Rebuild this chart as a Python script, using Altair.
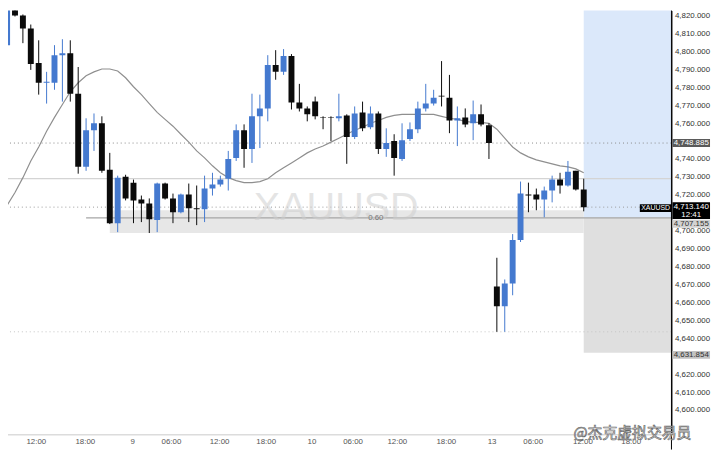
import altair as alt
import pandas as pd

# ---------------- data ----------------
opens = [4803.5, 4826.6, 4820.0, 4812.8, 4793.5, 4782.5, 4782.5, 4797.9, 4799.0, 4776.4,
         4735.6, 4756.0, 4759.9, 4734.0, 4704.2, 4730.1, 4726.8, 4717.4, 4715.2, 4705.9,
         4726.3, 4718.0, 4710.3, 4720.2, 4712.5, 4711.9, 4723.5, 4725.7, 4729.0, 4740.6,
         4756.0, 4745.6, 4763.8, 4768.2, 4792.4, 4788.6, 4797.4, 4771.5, 4768.2, 4772.0,
         4763.2, 4763.2, 4762.7, 4764.3, 4752.2, 4765.9, 4757.7, 4765.4, 4745.6, 4750.0,
         4740.0, 4751.1, 4756.6, 4768.2, 4770.9, 4775.3, 4774.2, 4761.5, 4763.2, 4759.9,
         4764.9, 4758.8, 4668.9, 4657.9, 4670.6, 4694.8, 4720.2, 4720.2, 4717.4, 4722.4,
         4728.5, 4725.2, 4733.4, 4723.0]
highs = [4829.9, 4828.8, 4820.6, 4815.0, 4806.2, 4788.6, 4803.5, 4806.8, 4806.2, 4791.3,
         4762.7, 4765.4, 4763.8, 4743.4, 4730.7, 4731.2, 4728.5, 4719.6, 4718.0, 4726.8,
         4726.8, 4720.7, 4720.7, 4726.3, 4725.2, 4730.7, 4732.3, 4730.7, 4744.5, 4759.3,
         4759.3, 4776.4, 4775.9, 4797.9, 4800.7, 4801.3, 4798.5, 4781.9, 4769.3, 4774.8,
         4763.8, 4763.8, 4776.4, 4764.9, 4769.3, 4772.0, 4769.3, 4766.5, 4757.1, 4753.8,
         4759.9, 4760.4, 4772.0, 4781.9, 4778.6, 4794.6, 4786.9, 4769.3, 4768.2, 4772.6,
         4770.4, 4759.9, 4684.9, 4672.8, 4698.1, 4727.4, 4726.8, 4723.5, 4724.6, 4730.7,
         4732.3, 4738.9, 4733.4, 4729.0]
lows = [4800.7, 4819.5, 4804.6, 4789.7, 4775.9, 4770.9, 4778.6, 4772.0, 4772.0, 4731.8,
        4733.4, 4744.5, 4732.3, 4703.7, 4699.2, 4716.9, 4704.2, 4704.8, 4698.7, 4699.2,
        4717.4, 4704.2, 4709.7, 4704.8, 4703.1, 4704.8, 4719.6, 4724.6, 4722.4, 4738.9,
        4735.1, 4737.8, 4746.1, 4761.0, 4784.2, 4786.9, 4767.6, 4766.5, 4761.0, 4762.1,
        4756.6, 4750.0, 4761.0, 4737.3, 4751.1, 4755.5, 4756.6, 4742.8, 4741.2, 4730.7,
        4738.9, 4750.0, 4754.4, 4766.5, 4769.8, 4769.3, 4754.4, 4747.2, 4757.7, 4750.5,
        4758.2, 4740.0, 4643.6, 4643.6, 4664.0, 4693.7, 4710.3, 4711.4, 4707.5, 4715.8,
        4720.7, 4724.6, 4722.4, 4710.8]
closes = [4826.1, 4820.0, 4812.8, 4793.0, 4782.5, 4783.1, 4797.9, 4799.0, 4776.4, 4735.6,
          4756.0, 4759.9, 4733.4, 4704.2, 4729.6, 4718.0, 4716.9, 4715.2, 4706.4, 4726.3,
          4718.0, 4710.3, 4720.2, 4712.5, 4711.9, 4723.5, 4725.7, 4728.5, 4740.0, 4756.0,
          4745.6, 4763.8, 4768.2, 4792.4, 4788.6, 4797.4, 4771.5, 4768.2, 4764.9, 4763.8,
          4762.9, 4762.9, 4763.8, 4752.2, 4765.4, 4757.1, 4765.4, 4745.6, 4748.9, 4740.6,
          4750.5, 4756.6, 4768.2, 4770.9, 4774.2, 4774.8, 4761.5, 4762.7, 4759.3, 4764.9,
          4759.3, 4748.9, 4657.9, 4670.6, 4694.8, 4720.7, 4719.6, 4717.4, 4722.4, 4728.5,
          4725.2, 4732.9, 4723.0, 4713.1]
ma_line = [4714.1, 4721.3, 4729.6, 4738.9, 4746.7, 4755.5, 4763.2, 4770.4, 4777.5, 4782.5,
           4786.4, 4788.6, 4790.2, 4790.2, 4789.1, 4785.3, 4780.3, 4775.9, 4770.9, 4766.0,
           4762.1, 4758.3, 4753.8, 4749.4, 4744.5, 4740.6, 4736.2, 4732.3, 4729.6, 4727.9,
           4726.8, 4726.8, 4727.4, 4729.0, 4732.3, 4735.1, 4737.8, 4740.6, 4743.4, 4745.6,
           4747.2, 4749.4, 4751.6, 4753.8, 4756.0, 4757.7, 4759.9, 4761.5, 4763.2, 4764.3,
           4764.9, 4764.9, 4764.9, 4764.9, 4764.9, 4763.8, 4762.7, 4762.1, 4761.0, 4760.4,
           4760.4, 4759.9, 4756.6, 4751.6, 4746.7, 4743.4, 4741.2, 4739.5, 4738.4, 4737.3,
           4736.2, 4735.6, 4734.5, 4732.3]

time_labels = ["12:00", "18:00", "9", "06:00", "12:00", "18:00", "10", "06:00",
               "12:00", "18:00", "13", "06:00", "12:00", "18:00"]
time_label_pos = [3.7, 9.9, 15.9, 20.8, 26.9, 32.8, 38.6, 43.8, 49.4, 55.6, 61.4, 66.6, 72.9, 79.0]

price_ticks = [4600, 4610, 4620, 4640, 4650, 4660, 4670, 4680, 4690, 4700, 4720, 4730,
               4740, 4760, 4770, 4780, 4790, 4800, 4810, 4820]

symbol = "XAUUSD"
last_price = 4713.140
last_time = "12:41"
level_high = 4748.885
entry_price = 4707.155
stop_price = 4631.854
solid_level = 4729.0
dotted_low = 4643.6
band_top = 4711.4
band_bottom = 4698.7
band_start = 13
line_start = 10
zone_start = 73
fib_label = "0.60"
credit = "@杰克虚拟交易员"

# ---------------- chart ----------------
W, H = 671, 429
BLUE = "#4479cf"
BLACK = "#0b0b0b"
FONT = "Liberation Sans"

xs = alt.Scale(domain=[0.74, 83.48], nice=False, zero=False)
ys = alt.Scale(domain=[4586.2, 4822.8], nice=False, zero=False)

yaxis = alt.Axis(orient="right", values=price_ticks, format=",.3f", labelFontSize=8,
                 labelColor="#333333", labelFont=FONT, domainColor="#000000", domainWidth=1,
                 ticks=False, grid=False, labelPadding=3, title=None)


def Y(field):
    return alt.Y(field, scale=ys, axis=yaxis)


def X(field):
    return alt.X(field, scale=xs, axis=None)


df = pd.DataFrame({"i": list(range(len(opens))), "open": opens, "high": highs,
                   "low": lows, "close": closes, "ma": ma_line})
df["dir"] = ["up" if c >= o else "down" for o, c in zip(opens, closes)]
col = alt.Color("dir:N", scale=alt.Scale(domain=["up", "down"], range=[BLUE, BLACK]), legend=None)


def zone(x1, x2, p1, p2, color):
    d = pd.DataFrame({"x1": [x1], "x2": [x2], "p1": [p1], "p2": [p2]})
    return alt.Chart(d).mark_rect(color=color, clip=True).encode(
        x=X("x1:Q"), x2="x2:Q", y=Y("p1:Q"), y2="p2:Q")


def hline(p, color, dash=None, width=1.0):
    d = pd.DataFrame({"p": [p]})
    kw = dict(color=color, strokeWidth=width)
    if dash:
        kw["strokeDash"] = dash
    return alt.Chart(d).mark_rule(**kw).encode(y=Y("p:Q"))


blue_zone = zone(zone_start, zone_start + 20, entry_price, 4840, "#dbe8fa")
grey_zone = zone(zone_start, zone_start + 20, stop_price, entry_price, "#dfdfdf")
band = zone(band_start, zone_start, band_bottom, band_top, "#e7e7e7")

entry_line = alt.Chart(pd.DataFrame({"x1": [line_start], "x2": [zone_start + 20], "p": [entry_price]})).mark_rule(
    color="#a6a6a6", strokeWidth=1.5, clip=True).encode(
    x=X("x1:Q"), x2="x2:Q", y=Y("p:Q"))

lines = [
    hline(solid_level, "#d4d4d4", width=1.2),
    hline(level_high, "#8a8a8a", dash=[1, 3]),
    hline(last_price, "#9a9a9a", dash=[1, 3]),
    hline(dotted_low, "#c4c4c4", dash=[1, 3]),
]

watermark = alt.Chart(pd.DataFrame({"t": [symbol]})).mark_text(
    fontSize=40, color="#cfcfcf", opacity=0.55, font=FONT, align="center", baseline="middle").encode(
    x=alt.value(332), y=alt.value(200), text="t:N")

fib = alt.Chart(pd.DataFrame({"t": [fib_label], "p": [entry_price]})).mark_text(
    fontSize=8, color="#777777", font=FONT, align="center", baseline="middle").encode(
    x=alt.value(372), y=Y("p:Q"), text="t:N")

base = alt.Chart(df)
ma = base.mark_line(color="#8f8f8f", strokeWidth=1.2, clip=True).encode(
    x=X("i:Q"), y=Y("ma:Q"))
wicks = base.mark_rule(strokeWidth=1, clip=True).encode(
    x=X("i:Q"), y=Y("low:Q"), y2="high:Q", color=col)
bodies = base.mark_bar(size=6, clip=True).encode(
    x=X("i:Q"), y=Y("open:Q"), y2="close:Q", color=col)

tl = pd.DataFrame({"pos": time_label_pos, "label": time_labels})
time_text = alt.Chart(tl).mark_text(fontSize=8, color="#555555", font=FONT, baseline="middle").encode(
    x=X("pos:Q"), y=alt.value(436), text="label:N")

bottom_line = alt.Chart(pd.DataFrame({"a": [0]})).mark_rule(color="#dcdcdc", strokeWidth=1.5).encode(
    x=alt.value(0), x2=alt.value(W), y=alt.value(429))
axis_ext = alt.Chart(pd.DataFrame({"a": [0]})).mark_rule(color="#000000", strokeWidth=1).encode(
    x=alt.value(W), y=alt.value(0), y2=alt.value(444))


def tag(p, lines_txt, bg, fg, x0, x1, top, bottom, dys, size=8):
    d = pd.DataFrame({"p": [p]})
    layers = [alt.Chart(d).mark_rect(color=bg, yOffset=top, y2Offset=bottom).encode(
        x=alt.value(x0), x2=alt.value(x1), y=Y("p:Q"), y2="p:Q")]
    for t, dy in zip(lines_txt, dys):
        dt = pd.DataFrame({"p": [p], "t": [t]})
        layers.append(alt.Chart(dt).mark_text(color=fg, fontSize=size, font=FONT, align="center",
                                              baseline="middle", dy=dy).encode(
            x=alt.value((x0 + x1) / 2), y=Y("p:Q"), text="t:N"))
    return layers


tags = []
tags += tag(level_high, [f"{level_high:,.3f}"], "#5a5a5a", "#ffffff", 672, 710, -4, 4, [0])
tags += tag(stop_price, [f"{stop_price:,.3f}"], "#c2c2c2", "#333333", 672, 710, -2, 6, [2])
tags += tag(entry_price, [f"{entry_price:,.3f}"], "#d2d2d2", "#333333", 672, 710, 2, 10, [6])
tags += tag(last_price, [symbol], "#000000", "#ffffff", 639, 671, -3, 5, [1], size=7)
tags += tag(last_price, [f"{last_price:,.3f}", last_time], "#000000", "#ffffff", 672, 710, -5, 12, [0, 7.5])

credit_text = alt.Chart(pd.DataFrame({"t": [credit]})).mark_text(
    fontSize=15, font="Noto Sans CJK SC", color="#ffffff", stroke="#6a6a6a", strokeWidth=0.7,
    align="left", baseline="middle").encode(x=alt.value(572), y=alt.value(427), text="t:N")

chart = alt.layer(
    blue_zone, grey_zone, band, *lines, entry_line, watermark, fib, ma, wicks, bodies,
    bottom_line, axis_ext, time_text, *tags, credit_text
).properties(
    width=W, height=H,
    padding={"left": 0, "top": 0, "right": 41, "bottom": 23},
    autosize=alt.AutoSizeParams(type="none"),
    background="#ffffff",
).configure_view(strokeWidth=0)

chart.save("out.html", embed_options={"renderer": "svg", "actions": False})
